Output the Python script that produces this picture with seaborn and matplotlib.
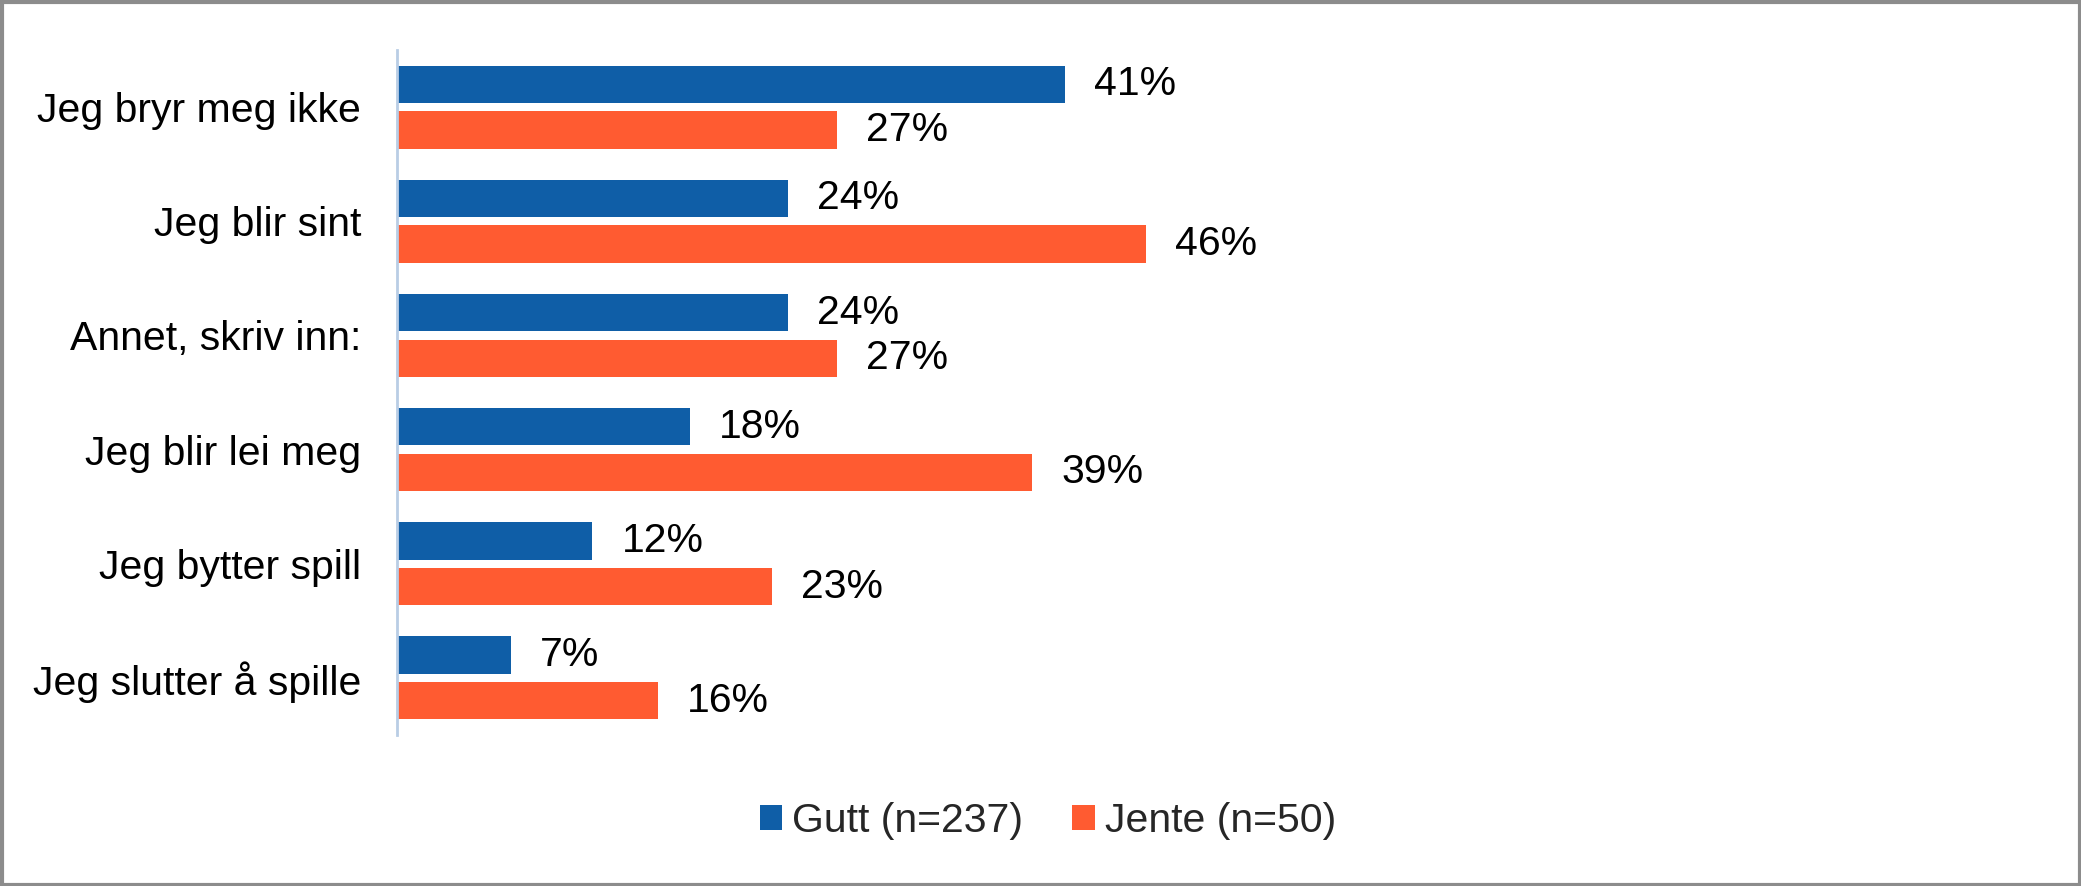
import matplotlib
matplotlib.use("Agg")
import matplotlib.pyplot as plt
import seaborn as sns
import pandas as pd
from matplotlib.patches import Rectangle, Patch

categories = ["Jeg bryr meg ikke", "Jeg blir sint", "Annet, skriv inn:",
              "Jeg blir lei meg", "Jeg bytter spill", "Jeg slutter å spille"]
gutt = [41, 24, 24, 18, 12, 7]
jente = [27, 46, 27, 39, 23, 16]
series_names = ["Gutt (n=237)", "Jente (n=50)"]
colors = {"Gutt (n=237)": "#0F5EA7", "Jente (n=50)": "#FF5B31"}

rows = []
for c, g, j in zip(categories, gutt, jente):
    rows.append({"cat": c, "series": series_names[0], "val": g})
    rows.append({"cat": c, "series": series_names[1], "val": j})
df = pd.DataFrame(rows)

sns.set_theme(style="white")
plt.rcParams['font.family'] = ['Liberation Sans', 'DejaVu Sans']

fig = plt.figure(figsize=(20.81, 8.86), dpi=100)
ax = fig.add_axes([397/2081, 1 - 735/886, 0.587, (735 - 50)/886])

sns.barplot(data=df, y="cat", x="val", hue="series", order=categories,
            hue_order=series_names, palette=colors, orient="h",
            width=0.8, gap=0.18, linewidth=0, saturation=1, ax=ax, legend=False,
            errorbar=None)

ax.set_xlim(0, 75)
ax.set_ylim(len(categories) - 0.5, -0.5)
ax.set_xlabel("")
ax.set_ylabel("")
ax.set_xticks([])
ax.tick_params(axis="y", length=0, pad=26, labelsize=29.5, labelcolor="black")
for s in ["top", "right", "bottom"]:
    ax.spines[s].set_visible(False)
ax.spines["left"].set_color("#B9CDE5")
ax.spines["left"].set_linewidth(2)

for cont in ax.containers:
    for bar in cont:
        w = bar.get_width()
        ax.annotate(f"{w:.0f}%", xy=(w, bar.get_y() + bar.get_height() / 2),
                    xytext=(21, 0), textcoords="offset points",
                    va="center", ha="left", fontsize=29.5, color="black")

handles = [Patch(facecolor=colors[n], edgecolor="none", label=n) for n in series_names]
fig.legend(handles=handles, loc="center", bbox_to_anchor=(1048/2081, 1 - 821/886),
           ncol=2, frameon=False, fontsize=29.5, handlelength=0.55, handleheight=0.55,
           handletextpad=0.25, columnspacing=1.2)

fig.patches.append(Rectangle((0.0008, 0.001), 0.9985, 0.997, transform=fig.transFigure,
                             fill=False, edgecolor="#8C8C8C", linewidth=3))

fig.savefig("out.png", dpi=100, facecolor="white")
